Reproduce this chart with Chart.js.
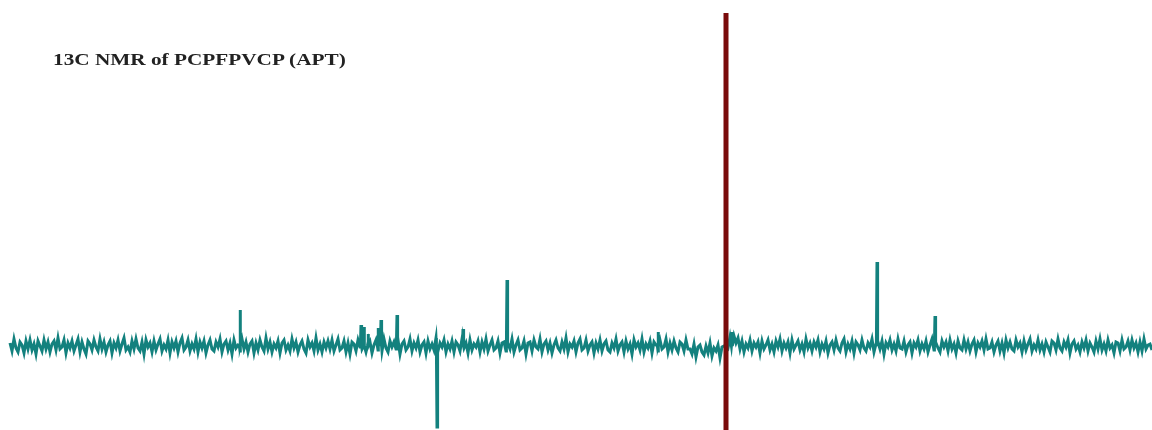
<!DOCTYPE html>
<html>
<head>
<meta charset="utf-8">
<script src="https://cdn.jsdelivr.net/npm/chart.js@4/dist/chart.umd.min.js"></script>
<style>
  html,body{margin:0;padding:0;background:#fff;}
  #wrap{position:relative;width:1152px;height:430px;}
  #title{position:absolute;left:53px;top:51px;font:bold 17px "Liberation Serif","Times New Roman",serif;color:#222;line-height:1;
         transform:scaleX(1.25);transform-origin:left top;white-space:nowrap;}
</style>
</head>
<body>
<div id="wrap">
  <canvas id="nmr" width="1152" height="430"></canvas>
  <div id="title">13C NMR of PCPFPVCP (APT)</div>
</div>
<script>
/* ---------------- data ---------------- */
const xStart = 10, xStep = 2;       // baseline sampling across the spectrum
const noise = [
  3,-5,7,-2,-6,4,1,-7,5,-3,6,-4,2,-8,5,0,-5,6,-3,4,
  -6,2,5,-4,8,-3,-1,6,-7,3,-2,5,-5,1,7,-6,4,-3,-8,5,
  2,-4,6,-1,-5,7,-3,4,-6,1,5,-7,3,-2,6,-5,2,8,-4,-1,
  -6,5,-3,7,-2,-5,4,-8,6,-1,3,-6,5,-4,2,7,-5,1,-3,6,
  -7,4,-2,5,-6,3,8,-4,-1,6,-5,2,-3,7,-6,4,-2,5,-7,1,
  6,-3,-5,4,-1,7,-6,2,5,-4,3,-8,6,-2,1,-5,7,-3,4,-6,
  2,5,-7,3,-4,6,-1,-5,8,-3,4,-6,2,-2,5,-7,3,6,-4,1,
  -5,7,-2,4,-6,1,5,-3,-7,6,-1,3,-5,8,-4,2,-6,4,-2,5,
  -3,6,-5,1,7,-4,-2,5,-6,3,-8,4,2,-5,6,-1,-3,7,-6,3,
  4,-7,1,6,-4,3,-5,7,-2,-6,5,-1,4,-3,6,-8,2,5,-4,-1,
  7,-5,3,-2,6,-6,1,4,-7,5,-3,2,-4,8,-5,3,-1,6,-6,2,
  -3,5,-6,4,1,-5,7,-2,3,-7,6,-4,2,-1,5,-6,4,-3,7,-5,
  1,6,-4,-2,5,-7,3,4,-5,2,-3,7,-6,1,6,-4,-2,5,-8,3,
  4,-5,6,-1,-3,7,-6,2,5,-4,3,-7,1,6,-2,-5,4,-3,8,-6,
  2,-1,5,-6,3,7,-4,-2,6,-5,1,4,-7,3,-3,6,-5,2,5,-4,
  -6,3,-2,7,-5,1,4,-6,5,-3,2,-8,6,-1,3,-4,7,-6,2,-2,
  5,-7,4,1,-5,6,-3,-1,7,-6,3,-4,5,-2,-6,4,2,-5,6,-3,
  -3,-8,2,-11,-1,1,-6,-9,0,-7,3,-10,-2,-5,1,-12,-1,0,-10,-2,
  9,6,10,3,8,-3,5,-6,2,-2,6,-5,3,-1,4,-7,5,-3,1,6,
  -4,2,-6,5,-1,7,-5,3,-2,4,-7,6,-3,1,5,-4,2,-6,7,-2,
  3,-5,4,-1,6,-6,2,-3,5,-7,1,4,-4,6,-2,-5,3,7,-6,2,
  -3,5,-7,4,1,-4,6,-2,-5,3,-1,7,-6,2,4,-3,5,-8,3,-1,
  6,-4,2,-5,7,-2,-3,5,-6,1,4,-7,3,-1,6,-5,2,-3,5,-6,
  1,7,-4,3,-2,-6,5,-1,4,-5,6,-3,2,-7,5,-2,-4,6,-3,4,
  -5,2,6,-6,3,-1,5,-4,7,-3,-2,4,-6,1,5,-5,3,-7,6,-2,
  4,-3,-5,6,-1,3,-6,5,-4,2,7,-5,1,-3,6,-4,2,-6,4,-1,
  -6,5,3,-4,7,-2,-5,4,-1,6,-7,2,5,-3,1,-6,4,-2,6,-5,
  3,-1,-6,5,-3,7,-4,2,-5,6,-2,1,-7,4,3,-5,6,-3,-1,5,
  -4,6,-2,3,-6,4,-5,7,-3,1,2,-4,6,-5
];
// peaks: position and intensity (positive = up, negative = APT inverted)
const peakPos = [240, 361, 364, 368, 378, 381, 397, 437, 463, 507, 658, 726, 732, 877, 935];
const peakInt = [ 36,  21,  19,  12,  18,  26,  31, -81,  17,  66,  14, 248,  14,  84,  30];
const refPos  = 726;                // reference marker
const refTop  = 333, refBottom = -84;
const yMin = -84, yMax = 346, xMin = 0, xMax = 1152;

/* ---------------- build series ---------------- */
const pts = noise.map((v,i)=>({x:xStart+i*xStep, y:v}));
peakPos.forEach((p,i)=>{
  pts.push({x:p-0.6, y:0},{x:p, y:peakInt[i]},{x:p+0.6, y:0});
});
pts.sort((a,b)=>a.x-b.x);

/* ---------------- chart ---------------- */
new Chart(document.getElementById('nmr'),{
  type:'line',
  data:{datasets:[
    {data:[{x:refPos,y:refTop},{x:refPos,y:refBottom}], borderColor:'#7a0b0b', borderWidth:5, pointRadius:0, borderCapStyle:'butt'},
    {data:pts, borderColor:'#13817e', borderWidth:3, pointRadius:0, tension:0}
  ]},
  options:{
    responsive:false, animation:false,
    layout:{padding:0},
    plugins:{legend:{display:false}, tooltip:{enabled:false}},
    scales:{
      x:{type:'linear', min:xMin, max:xMax, display:false},
      y:{min:yMin, max:yMax, display:false}
    }
  }
});
</script>
</body>
</html>
